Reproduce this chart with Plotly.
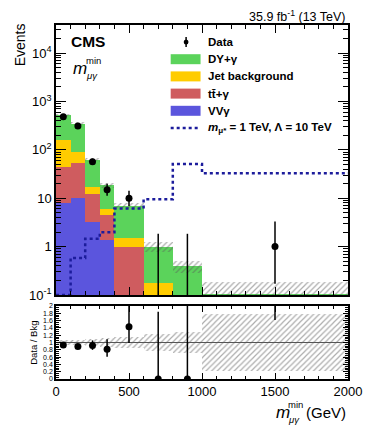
import numpy as np
import plotly.graph_objects as go

# m_mu-gamma min distribution, 35.9 fb-1
bin_edges = [0, 100, 200, 300, 400, 600, 800, 1000, 2000]
data_counts = [480, 310, 57, 15, 10, 0, 0, 1]
data_err_up = [22.4, 18.6, 8.6, 5.0, 4.3, 1.84, 1.84, 2.30]
data_err_down = [21.4, 17.6, 7.5, 3.8, 3.1, 0.0, 0.0, 0.83]

bkg_vvg = [7.9, 10.0, 3.2, 1.36, 0, 0, 0, 0]
bkg_ttg = [36, 43, 9.3, 3.1, 0.97, 0, 0, 0]
bkg_jet = [113, 39, 4.5, 1.6, 0.53, 0.18, 0, 0]
bkg_dyg = [358, 255, 45, 12.3, 5.5, 0.82, 0.40, 0.105]
bkg_unc_rel = [0.07, 0.07, 0.09, 0.11, 0.14, 0.23, 0.28, 0.78]

signal = [0.1, 0.58, 1.46, 1.97, 6.1, 9.5, 51, 33]

ytick_vals = [0.1, 1, 10, 100, 1000, 10000]
ytick_text = ["10<sup>-1</sup>", "1", "10", "10<sup>2</sup>", "10<sup>3</sup>", "10<sup>4</sup>"]
ratio_ticks = [0, 0.2, 0.4, 0.6, 0.8, 1, 1.2, 1.4, 1.6, 1.8, 2]

GREEN = "#5bd35b"
YELLOW = "#ffcc00"
RED = "#cf5c5f"
BLUE = "#5b55dd"
SIG = "#1c1c9c"
FONT = "Liberation Sans, Arial, sans-serif"

edges = np.array(bin_edges, dtype=float)
centers = (edges[:-1] + edges[1:]) / 2
widths = np.diff(edges)

vv = np.array(bkg_vvg)
tt = vv + np.array(bkg_ttg)
jet = tt + np.array(bkg_jet)
total = jet + np.array(bkg_dyg)
unc = total * np.array(bkg_unc_rel)

d = np.array(data_counts, dtype=float)
up = np.array(data_err_up)
dn = np.array(data_err_down)

hatch = dict(shape="/", fgcolor="#5a5a5a", bgcolor="rgba(0,0,0,0)", size=4, solidity=0.3)

fig = go.Figure()

for y, col in [(total, GREEN), (jet, YELLOW), (tt, RED), (vv, BLUE)]:
    fig.add_trace(go.Bar(x=centers, y=y, width=widths, marker=dict(color=col, line_width=0),
                         xaxis="x", yaxis="y", showlegend=False))

fig.add_trace(go.Bar(x=centers, y=2 * unc, base=total - unc, width=widths,
                     marker=dict(color="rgba(0,0,0,0)", line_width=0, pattern=hatch),
                     xaxis="x", yaxis="y", showlegend=False))

# signal step line
fig.add_trace(go.Scatter(x=list(edges), y=signal + [signal[-1]], mode="lines", line_shape="hv",
                         line=dict(color=SIG, width=2.5, dash="dot"), xaxis="x", yaxis="y",
                         showlegend=False))

# data (zero-count bins kept off the log scale, only the error bar shows)
plot_y = np.where(d > 0, d, 1e-3)
fig.add_trace(go.Scatter(x=centers, y=plot_y, mode="markers",
                         marker=dict(color="black", size=7),
                         error_y=dict(type="data", symmetric=False, array=d + up - plot_y,
                                      arrayminus=np.where(d > 0, dn, 0), color="black",
                                      thickness=1.5, width=0),
                         xaxis="x", yaxis="y", showlegend=False))

# ratio panel
rel = np.array(bkg_unc_rel)
fig.add_trace(go.Bar(x=centers, y=2 * rel, base=1 - rel, width=widths,
                     marker=dict(color="rgba(0,0,0,0)", line_width=0, pattern=hatch),
                     xaxis="x2", yaxis="y2", showlegend=False))
fig.add_trace(go.Scatter(x=[edges[0], edges[-1]], y=[1, 1], mode="lines",
                         line=dict(color="#555", width=1), xaxis="x2", yaxis="y2", showlegend=False))
fig.add_trace(go.Scatter(x=centers, y=d / total, mode="markers",
                         marker=dict(color="black", size=7),
                         error_y=dict(type="data", symmetric=False, array=up / total,
                                      arrayminus=dn / total, color="black", thickness=1.5, width=0),
                         xaxis="x2", yaxis="y2", showlegend=False))

# pixel -> paper helpers (plot area on the page: x 56..359, y 25..379)
def px(x):
    return (x - 56) / 303


def py(y):
    return (379 - y) / 354


ann = []
shapes = []


def text(x, y, s, size, xanchor="left", angle=0, yanchor="middle"):
    ann.append(dict(x=px(x), y=py(y), xref="paper", yref="paper", text=s, showarrow=False,
                    xanchor=xanchor, yanchor=yanchor, textangle=angle,
                    font=dict(family=FONT, size=size, color="black")))


text(359, 15.5, "35.9 fb<sup>-1</sup> (13 TeV)", 12.5, xanchor="right")
text(69, 42, "<b>CMS</b>", 15.5)
text(72, 69, "<i>m</i>", 17)
text(85, 60, "min", 9.5)
text(85, 76, "<i>μγ</i>", 9.5)
text(19, 45, "Events", 14, xanchor="center", angle=-90)
text(32, 343, "Data / Bkg", 9.5, xanchor="center", angle=-90)
text(282, 412, "<i>m</i>", 17)
text(295, 404, "min", 9.5)
text(295, 419, "<i>μγ</i>", 9.5)
text(359, 412, "(GeV)", 15, xanchor="right")

# legend
legend_rows = [("Data", None), ("DY+γ", GREEN), ("Jet background", YELLOW),
               ("tt̄+γ", RED), ("VVγ", BLUE), ("<i>m</i><sub>μ*</sub> = 1 TeV, Λ = 10 TeV", "sig")]
for i, (lab, col) in enumerate(legend_rows):
    yy = 42 + i * 17.2
    text(212, yy, "<b>" + lab + "</b>", 11.5)
    if col is None:
        shapes.append(dict(type="line", xref="paper", yref="paper", x0=px(191), x1=px(191),
                           y0=py(yy - 5), y1=py(yy + 5), line=dict(color="black", width=1.5)))
        shapes.append(dict(type="circle", xref="paper", yref="paper", x0=px(188.5), x1=px(193.5),
                           y0=py(yy + 2.5), y1=py(yy - 2.5), fillcolor="black", line_width=0))
    elif col == "sig":
        shapes.append(dict(type="line", xref="paper", yref="paper", x0=px(175), x1=px(206),
                           y0=py(yy), y1=py(yy), line=dict(color=SIG, width=2.5, dash="dot")))
    else:
        shapes.append(dict(type="rect", xref="paper", yref="paper", x0=px(175), x1=px(206),
                           y0=py(yy + 5), y1=py(yy - 5), fillcolor=col, line_width=0))

axis_common = dict(showline=True, mirror="allticks", linecolor="black", linewidth=1.5,
                   ticks="inside", tickcolor="black", showgrid=False, zeroline=False)

# the page body adds an 8px offset, so the figure is 8px smaller than the window
fig.update_layout(
    width=366, height=421,
    margin=dict(l=48, r=15, t=17, b=50),
    paper_bgcolor="white", plot_bgcolor="white",
    barmode="overlay", bargap=0,
    font=dict(family=FONT, size=13, color="black"),
    annotations=ann, shapes=shapes,
    xaxis=dict(domain=[0, 1], anchor="y", range=[0, 2000], tickvals=[0, 500, 1000, 1500, 2000],
               showticklabels=False, ticklen=8,
               minor=dict(ticks="inside", tickvals=list(range(0, 2001, 100)), ticklen=4, tickcolor="black"),
               **axis_common),
    yaxis=dict(domain=[0.2373, 1], anchor="x", type="log", range=[-1, np.log10(38000)],
               tickvals=ytick_vals, ticktext=ytick_text, ticklen=10, tickfont=dict(size=13),
               minor=dict(ticks="inside", ticklen=5, tickcolor="black",
                          tickvals=[k * 10.0 ** e for e in range(-1, 5) for k in range(2, 10)]),
               **axis_common),
    xaxis2=dict(domain=[0, 1], anchor="y2", range=[0, 2000], tickvals=[0, 500, 1000, 1500, 2000],
                ticklen=6, tickfont=dict(size=13),
                minor=dict(ticks="inside", tickvals=list(range(0, 2001, 100)), ticklen=3, tickcolor="black"),
                **axis_common),
    yaxis2=dict(domain=[0, 0.2062], anchor="x2", range=[0, 2], tickvals=ratio_ticks,
                ticktext=[f"{v:g}" for v in ratio_ticks], ticklen=5, tickfont=dict(size=7),
                minor=dict(ticks="inside", tickvals=[v / 20 for v in range(0, 41)], ticklen=3, tickcolor="black"),
                **axis_common),
)

fig.write_html("out.html")
